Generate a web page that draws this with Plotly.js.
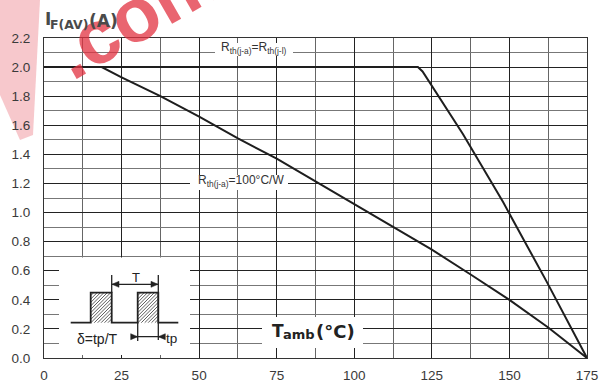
<!DOCTYPE html>
<html><head><meta charset="utf-8">
<script src="https://cdn.plot.ly/plotly-3.0.1.min.js"></script>
<style>html,body{margin:0;padding:0;background:#fff}#chart{width:610px;height:387px}</style>
</head><body><div id="chart"></div>
<script>
// ---- data ----
const tempRthJL = [0, 120.5, 122, 135, 148, 162, 175];
const currRthJL = [2.0, 2.0, 1.97, 1.54, 1.07, 0.525, 0.0];
const tempRth100 = [0, 18.6, 25, 37.5, 50, 62.5, 75, 87.5, 100, 112.5, 125, 137.5, 150, 162.5, 175];
const currRth100 = [2.0, 2.0, 1.93, 1.8, 1.66, 1.51, 1.37, 1.215, 1.06, 0.905, 0.745, 0.574, 0.4, 0.21, 0.0];
const xTicks = [0, 25, 50, 75, 100, 125, 150, 175];
const yTicks = [0, 0.2, 0.4, 0.6, 0.8, 1.0, 1.2, 1.4, 1.6, 1.8, 2.0, 2.2];
const labelJL = 'R<sub>th(j-a)</sub>=R<sub>th(j-l)</sub>';
const label100 = 'R<sub>th(j-a)</sub>=100°C/W';

// ---- layout helpers (pixel -> paper) ----
const L = 44, R = 587, T = 38, B = 358;
const px = x => (x - L) / (R - L);
const py = y => (B - y) / (B - T);
const P = (x, y) => px(x).toFixed(5) + ',' + py(y).toFixed(5);
const ink = '#222';
const shapes = [];
function rectPx(x0, y0, x1, y1, fill) {
  shapes.push({type: 'rect', xref: 'paper', yref: 'paper', x0: px(x0), x1: px(x1), y0: py(y1), y1: py(y0),
    fillcolor: fill || '#ffffff', line: {width: 0}, layer: 'above'});
}
function pathPx(pts, opts) {
  const d = pts.map((p, i) => (i ? 'L' : 'M') + P(p[0], p[1])).join(' ') + (opts.close ? ' Z' : '');
  shapes.push(Object.assign({type: 'path', xref: 'paper', yref: 'paper', path: d, layer: 'above'}, opts.s));
}
function linePx(x0, y0, x1, y1, w) {
  pathPx([[x0, y0], [x1, y1]], {s: {line: {color: ink, width: w || 1.3}}});
}
function arrowHead(tx, ty, dir) { // dir +1 points right, -1 points left
  pathPx([[tx, ty], [tx - dir * 7, ty - 3], [tx - dir * 7, ty + 3]], {close: true, s: {fillcolor: ink, line: {color: ink, width: 0.5}}});
}
function hatch(x0, y0, x1, y1) {
  for (let c = x0 + y0 + 3; c < x1 + y1; c += 3.4) {
    let ax = Math.max(x0, c - y1), ay = c - ax;
    let bx = Math.min(x1, c - y0), by = c - bx;
    pathPx([[ax, ay], [bx, by]], {s: {line: {color: '#333', width: 0.8}}});
  }
}

// watermark band (left)
shapes.push({type: 'path', xref: 'paper', yref: 'paper', layer: 'below',
  path: 'M' + P(0, 0) + ' L' + P(40, 0) + ' L' + P(33, 135) + ' L' + P(20, 140) + ' L' + P(0, 95) + ' Z',
  fillcolor: 'rgba(235,110,120,0.38)', line: {width: 0}});

// white patches breaking the grid
rectPx(215, 43, 293, 56);
rectPx(190, 175, 288, 190);
rectPx(59, 257.5, 190, 355);
rectPx(262, 317, 363, 348);

// pulse diagram
hatch(90.7, 292.7, 111.7, 322.7);
hatch(137.7, 292.7, 158.3, 322.7);
pathPx([[70.7, 322.7], [90.7, 322.7], [90.7, 292.7], [111.7, 292.7], [111.7, 322.7], [137.7, 322.7],
  [137.7, 292.7], [158.3, 292.7], [158.3, 322.7], [178.3, 322.7]], {s: {line: {color: ink, width: 1.8}}});
linePx(111.7, 275, 111.7, 292.7);
linePx(158.3, 275, 158.3, 340);
linePx(137.7, 322.7, 137.7, 341);
linePx(112, 284.3, 158, 284.3);
arrowHead(112, 284.3, -1);
arrowHead(158, 284.3, 1);
linePx(131, 336.7, 165, 336.7);
arrowHead(137.7, 336.7, 1);
arrowHead(158.3, 336.7, -1);

const ann = (x, y, text, size, opts) => Object.assign({xref: 'paper', yref: 'paper', x: px(x), y: py(y), text: text,
  showarrow: false, xanchor: 'center', yanchor: 'middle', font: {family: 'Liberation Sans, Arial', size: size, color: '#333'}}, opts || {});

const annotations = [
  ann(135, 14, '<b>.com</b>', 76, {textangle: -30, font: {family: 'Liberation Sans, Arial', size: 76, color: 'rgba(226,50,64,0.75)'}}),
  ann(43, 19, '<b>I</b>', 17, {xanchor: 'left', font: {family: 'DejaVu Sans', size: 17, color: '#4a4a4a'}}),
  ann(48, 24, '<b>F(AV)</b>', 12.5, {xanchor: 'left', font: {family: 'DejaVu Sans', size: 12.5, color: '#4a4a4a'}}),
  ann(87, 21, '<b>(A)</b>', 17, {xanchor: 'left', font: {family: 'DejaVu Sans', size: 17, color: '#4a4a4a'}}),
  ann(254, 48, labelJL, 12),
  ann(241, 181, label100, 12),
  ann(270, 331, '<b>T</b>', 17, {xanchor: 'left', font: {family: 'DejaVu Sans', size: 17, color: '#222'}}),
  ann(281, 334, '<b>amb</b>', 13, {xanchor: 'left', font: {family: 'DejaVu Sans', size: 13, color: '#222'}}),
  ann(314, 331, '<b>(°C)</b>', 18, {xanchor: 'left', font: {family: 'DejaVu Sans', size: 18, color: '#222'}}),
  ann(135.5, 277.5, 'T', 13, {font: {family: 'Liberation Sans, Arial', size: 13, color: '#222'}}),
  ann(171, 338.5, 'tp', 13.5, {font: {family: 'Liberation Sans, Arial', size: 13.5, color: '#222'}}),
  ann(97.5, 339, 'δ=tp/T', 14, {font: {family: 'Liberation Sans, Arial', size: 14, color: '#222'}})
];

const traces = [
  {x: tempRthJL, y: currRthJL, mode: 'lines', line: {color: '#1e1e1e', width: 2}, hoverinfo: 'skip'},
  {x: tempRth100, y: currRth100, mode: 'lines', line: {color: '#1e1e1e', width: 2}, hoverinfo: 'skip'}
];

const axisCommon = {showline: true, mirror: true, linecolor: '#333', linewidth: 1, zeroline: false,
  gridcolor: '#222', gridwidth: 1, ticks: '', tickfont: {family: 'Liberation Sans, Arial', size: 13.5, color: '#3a3a3a'}};

const layout = {
  width: 610, height: 387, showlegend: false,
  margin: {l: L, r: 610 - R, t: T, b: 387 - B, pad: 0},
  paper_bgcolor: '#fff', plot_bgcolor: '#fff',
  xaxis: Object.assign({}, axisCommon, {range: [0, 175], tickvals: xTicks, ticktext: xTicks.map(String),
    ticklabelstandoff: 5, minor: {dtick: 12.5, tick0: 0, showgrid: true, gridcolor: '#666', gridwidth: 1}}),
  yaxis: Object.assign({}, axisCommon, {range: [0, 2.2], tickvals: yTicks, ticktext: yTicks.map(v => v.toFixed(1)),
    ticklabelstandoff: 10, minor: {dtick: 0.1, tick0: 0, showgrid: true, gridcolor: '#777', gridwidth: 1}}),
  shapes: shapes, annotations: annotations
};

Plotly.newPlot('chart', traces, layout, {staticPlot: true, displayModeBar: false});
</script></body></html>
